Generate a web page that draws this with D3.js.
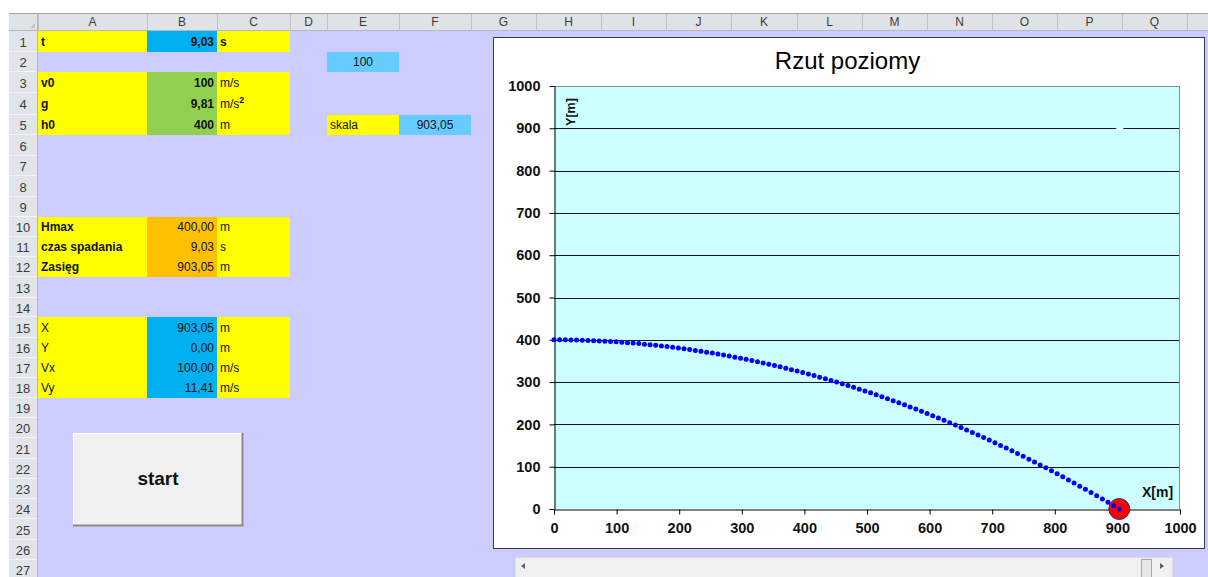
<!DOCTYPE html>
<html><head><meta charset="utf-8">
<script src="https://cdn.jsdelivr.net/npm/d3@7/dist/d3.min.js"></script>
<style>
body{margin:0;background:#fff;}
svg{display:block;font-family:"Liberation Sans",Arial,sans-serif;}
</style>
</head><body>
<svg id="s" width="1208" height="577"></svg>
<script>
// ---------- chart data ----------
const chartTitle = "Rzut poziomy";
const xTicks = [0,100,200,300,400,500,600,700,800,900,1000];
const yTicks = [0,100,200,300,400,500,600,700,800,900,1000];
const trajX = [0,9.0,18.1,27.1,36.1,45.2,54.2,63.2,72.2,81.3,90.3,99.3,108.4,117.4,126.4,135.5,144.5,153.5,162.5,171.6,
 180.6,189.6,198.7,207.7,216.7,225.8,234.8,243.8,252.9,261.9,270.9,279.9,289.0,298.0,307.0,316.1,325.1,334.1,343.2,352.2,
 361.2,370.3,379.3,388.3,397.3,406.4,415.4,424.4,433.5,442.5,451.5,460.6,469.6,478.6,487.6,496.7,505.7,514.7,523.8,532.8,
 541.8,550.9,559.9,568.9,578.0,587.0,596.0,605.0,614.1,623.1,632.1,641.2,650.2,659.2,668.3,677.3,686.3,695.3,704.4,713.4,
 722.4,731.5,740.5,749.5,758.6,767.6,776.6,785.7,794.7,803.7,812.7,821.8,830.8,839.8,848.9,857.9,866.9,876.0,885.0,894.0,903.05];
const trajY = [400,399.96,399.84,399.64,399.36,399,398.56,398.04,397.44,396.76,396,395.16,394.24,393.24,392.16,391,389.76,388.44,387.04,385.56,
 384,382.36,380.64,378.84,376.96,375,372.96,370.84,368.64,366.36,364,361.56,359.04,356.44,353.76,351,348.16,345.24,342.24,339.16,
 336,332.76,329.44,326.04,322.56,319,315.36,311.64,307.84,303.96,300,295.96,291.84,287.64,283.36,279,274.56,270.04,265.44,260.76,
 256,251.16,246.24,241.24,236.16,231,225.76,220.44,215.04,209.56,204,198.36,192.64,186.84,180.96,175,168.96,162.84,156.64,150.36,
 144,137.56,131.04,124.44,117.76,111,104.16,97.24,90.24,83.16,76,68.76,61.44,54.04,46.56,39,31.36,23.64,15.84,7.96,0];
const ballX = [903.05], ballY = [0];
const skalaX = [903.05], skalaY = [900];
const xLabel = "X[m]", yLabel = "Y[m]";

// ---------- sheet content ----------
const colLetters = ["A","B","C","D","E","F","G","H","I","J","K","L","M","N","O","P","Q"];
const colEdges = [38,147,217,290,327,399,471,536,601,666,731,797,862,927,992,1057,1122,1187,1252];
const rowEdges = [31,52,72,93,115,135,156,176,197,217,237,257,277,298,317,338,358,378,398,418,438,459,479,499,519,540,560,580];
// fills: [row, col index, color]
const Y="#ffff00", BL="#00b0f0", GR="#92d050", OR="#ffc000", LB="#66ccff";
const fills = [
 [1,0,Y],[1,1,BL],[1,2,Y],
 [3,0,Y],[3,1,GR],[3,2,Y],[4,0,Y],[4,1,GR],[4,2,Y],[5,0,Y],[5,1,GR],[5,2,Y],
 [10,0,Y],[10,1,OR],[10,2,Y],[11,0,Y],[11,1,OR],[11,2,Y],[12,0,Y],[12,1,OR],[12,2,Y],
 [15,0,Y],[15,1,BL],[15,2,Y],[16,0,Y],[16,1,BL],[16,2,Y],[17,0,Y],[17,1,BL],[17,2,Y],[18,0,Y],[18,1,BL],[18,2,Y],
 [2,4,LB],[5,4,Y],[5,5,LB]
];
// texts: [row, col, text, align, bold, superscript]
const texts = [
 [1,0,"t","l",1],[1,1,"9,03","r",1],[1,2,"s","l",1],
 [3,0,"v0","l",1],[3,1,"100","r",1],[3,2,"m/s","l",0],
 [4,0,"g","l",1],[4,1,"9,81","r",1],[4,2,"m/s","l",0,"2"],
 [5,0,"h0","l",1],[5,1,"400","r",1],[5,2,"m","l",0],
 [10,0,"Hmax","l",1],[10,1,"400,00","r",0],[10,2,"m","l",0],
 [11,0,"czas spadania","l",1],[11,1,"9,03","r",0],[11,2,"s","l",0],
 [12,0,"Zasięg","l",1],[12,1,"903,05","r",0],[12,2,"m","l",0],
 [15,0,"X","l",0],[15,1,"903,05","r",0],[15,2,"m","l",0],
 [16,0,"Y","l",0],[16,1,"0,00","r",0],[16,2,"m","l",0],
 [17,0,"Vx","l",0],[17,1,"100,00","r",0],[17,2,"m/s","l",0],
 [18,0,"Vy","l",0],[18,1,"11,41","r",0],[18,2,"m/s","l",0],
 [2,4,"100","c",0],[5,4,"skala","l",0],[5,5,"903,05","c",0]
];

const svg = d3.select("#s");

// sheet background
svg.append("rect").attr("x",38).attr("y",31).attr("width",1170).attr("height",546).attr("fill","#ccccff");

// header row
const hdr = svg.append("g");
hdr.append("rect").attr("x",9).attr("y",13).attr("width",1199).attr("height",18).attr("fill","#dfe3e8");
hdr.append("line").attr("x1",9).attr("x2",1208).attr("y1",13.5).attr("y2",13.5).attr("stroke","#9ea3a8");
hdr.append("line").attr("x1",9).attr("x2",1208).attr("y1",30.5).attr("y2",30.5).attr("stroke","#b5b9be");
hdr.selectAll("line.sep").data(colEdges).join("line").attr("class","sep")
  .attr("x1",d=>d+0.5).attr("x2",d=>d+0.5).attr("y1",14).attr("y2",30).attr("stroke","#bfc3c8");
hdr.selectAll("text").data(colLetters).join("text")
  .attr("x",(d,i)=>(colEdges[i]+colEdges[i+1])/2).attr("y",26).attr("text-anchor","middle")
  .attr("font-size",12).attr("fill","#3c3c3c").text(d=>d);
hdr.append("path").attr("d","M30,28 L35,28 L35,23 Z").attr("fill","#c4c8cc");

// row header
const rh = svg.append("g");
rh.append("rect").attr("x",9).attr("y",31).attr("width",29).attr("height",546).attr("fill","#e1e4e8");
rh.append("line").attr("x1",37.5).attr("x2",37.5).attr("y1",13).attr("y2",577).attr("stroke","#b5b9be");
rh.selectAll("line.rs").data(rowEdges.slice(1)).join("line").attr("class","rs")
  .attr("x1",9).attr("x2",37).attr("y1",d=>d-0.5).attr("y2",d=>d-0.5).attr("stroke","#f4f5f7");
rh.selectAll("text").data(d3.range(1,28)).join("text")
  .attr("x",23).attr("y",d=>(rowEdges[d-1]+rowEdges[d])/2+5).attr("text-anchor","middle")
  .attr("font-size",13).attr("fill","#3c3c3c").text(d=>d);

// cell fills
svg.append("g").selectAll("rect").data(fills).join("rect")
  .attr("x",d=>colEdges[d[1]]).attr("y",d=>rowEdges[d[0]-1])
  .attr("width",d=>colEdges[d[1]+1]-colEdges[d[1]]).attr("height",d=>rowEdges[d[0]]-rowEdges[d[0]-1])
  .attr("fill",d=>d[2]);

// cell texts
const tx = svg.append("g").selectAll("text").data(texts).join("text")
  .attr("x",d=>d[3]==="l"?colEdges[d[1]]+3:d[3]==="r"?colEdges[d[1]+1]-3:(colEdges[d[1]]+colEdges[d[1]+1])/2)
  .attr("y",d=>(rowEdges[d[0]-1]+rowEdges[d[0]])/2+4)
  .attr("text-anchor",d=>d[3]==="l"?"start":d[3]==="r"?"end":"middle")
  .attr("font-size",12).attr("font-weight",d=>d[4]?"bold":"normal").attr("fill","#111");
tx.append("tspan").text(d=>d[2]);
tx.filter(d=>d[5]).append("tspan").attr("dy",-5).attr("font-size",9).attr("font-weight","bold").text(d=>d[5]);

// start button
const btn = svg.append("g");
btn.append("rect").attr("x",73).attr("y",433).attr("width",170).attr("height",93).attr("fill","#f0f0f0");
btn.append("path").attr("d","M73.5,525.5 L73.5,433.5 L242.5,433.5").attr("fill","none").attr("stroke","#ffffff");
btn.append("path").attr("d","M73,525.5 L242.5,525.5 L242.5,433").attr("fill","none").attr("stroke","#8a8a8a").attr("stroke-width",2);
btn.append("text").attr("x",158).attr("y",485).attr("text-anchor","middle").attr("font-size",19)
  .attr("font-weight","bold").attr("fill","#111").text("start");

// scrollbar
const sb = svg.append("g");
sb.append("rect").attr("x",515.5).attr("y",557.5).attr("width",657).attr("height",22).attr("fill","#f0f0f0").attr("stroke","#dcdcdc");
sb.append("rect").attr("x",1141.5).attr("y",559.5).attr("width",10).attr("height",20).attr("fill","#e8e8e8").attr("stroke","#a8a8a8");
sb.append("path").attr("d","M521,566 L525,563 L525,569 Z").attr("fill","#606060");
sb.append("path").attr("d","M1164,566 L1160,563 L1160,569 Z").attr("fill","#606060");

// ---------- chart ----------
const ch = svg.append("g");
ch.append("rect").attr("x",493.5).attr("y",37.5).attr("width",711).attr("height",511).attr("fill","#ffffff").attr("stroke","#3a3a3a");

const L=554, R=1180, T=86, B=509;
const x = d3.scaleLinear().domain([0,1000]).range([L,R]);
const y = d3.scaleLinear().domain([0,1000]).range([B,T]);

ch.append("rect").attr("x",L).attr("y",T).attr("width",R-L).attr("height",B-T).attr("fill","#ccffff");
// gridlines
ch.append("g").selectAll("line").data(yTicks.filter(v=>v>0&&v<1000)).join("line")
  .attr("x1",L).attr("x2",R).attr("y1",d=>Math.round(y(d))+0.5).attr("y2",d=>Math.round(y(d))+0.5)
  .attr("stroke","#141414");
// plot border top/right
ch.append("path").attr("d",`M${L},${T+0.5} L${R-0.5},${T+0.5} L${R-0.5},${B}`).attr("fill","none").attr("stroke","#8c8c8c");

ch.append("text").attr("x",847.5).attr("y",69).attr("text-anchor","middle").attr("font-size",24).attr("fill","#000").text(chartTitle);

const ax = ch.append("g").attr("transform",`translate(0,${B+0.5})`)
  .call(d3.axisBottom(x).tickValues(xTicks).tickSize(5).tickSizeOuter(0).tickPadding(8).tickFormat(d3.format("d")));
const ay = ch.append("g").attr("transform",`translate(${L+0.5},0)`)
  .call(d3.axisLeft(y).tickValues(yTicks).tickSize(5).tickSizeOuter(0).tickPadding(9).tickFormat(d3.format("d")));
[ax,ay].forEach(a=>{
  a.selectAll("path.domain").attr("stroke","#000");
  a.selectAll(".tick line").attr("stroke","#000");
  a.selectAll("text").attr("font-size",14.5).attr("font-weight","bold").attr("fill","#111")
    .attr("font-family","'Liberation Sans',Arial,sans-serif");
});

ch.append("text").attr("transform","translate(575,112) rotate(-90)").attr("text-anchor","middle")
  .attr("font-size",12.5).attr("font-weight","bold").attr("fill","#111").text(yLabel);
ch.append("text").attr("x",1142).attr("y",497).attr("font-size",14).attr("font-weight","bold").attr("fill","#111").text(xLabel);

// skala marker (white)
ch.append("g").selectAll("line").data(skalaX).join("line")
  .attr("x1",(d)=>x(d)-3).attr("x2",(d)=>x(d)+4).attr("y1",(d,i)=>y(skalaY[i])+0.5).attr("y2",(d,i)=>y(skalaY[i])+0.5)
  .attr("stroke","#ffffff").attr("stroke-width",2);

// ball
ch.append("g").selectAll("circle").data(ballX).join("circle")
  .attr("cx",d=>x(d)).attr("cy",(d,i)=>y(ballY[i])).attr("r",10.5)
  .attr("fill","#ff0000").attr("stroke","#2b2b8a").attr("stroke-width",1);

// trajectory dots
ch.append("g").selectAll("circle").data(trajX).join("circle")
  .attr("cx",d=>x(d)).attr("cy",(d,i)=>y(trajY[i])).attr("r",2.5).attr("fill","#0000ff");
</script>
</body></html>
